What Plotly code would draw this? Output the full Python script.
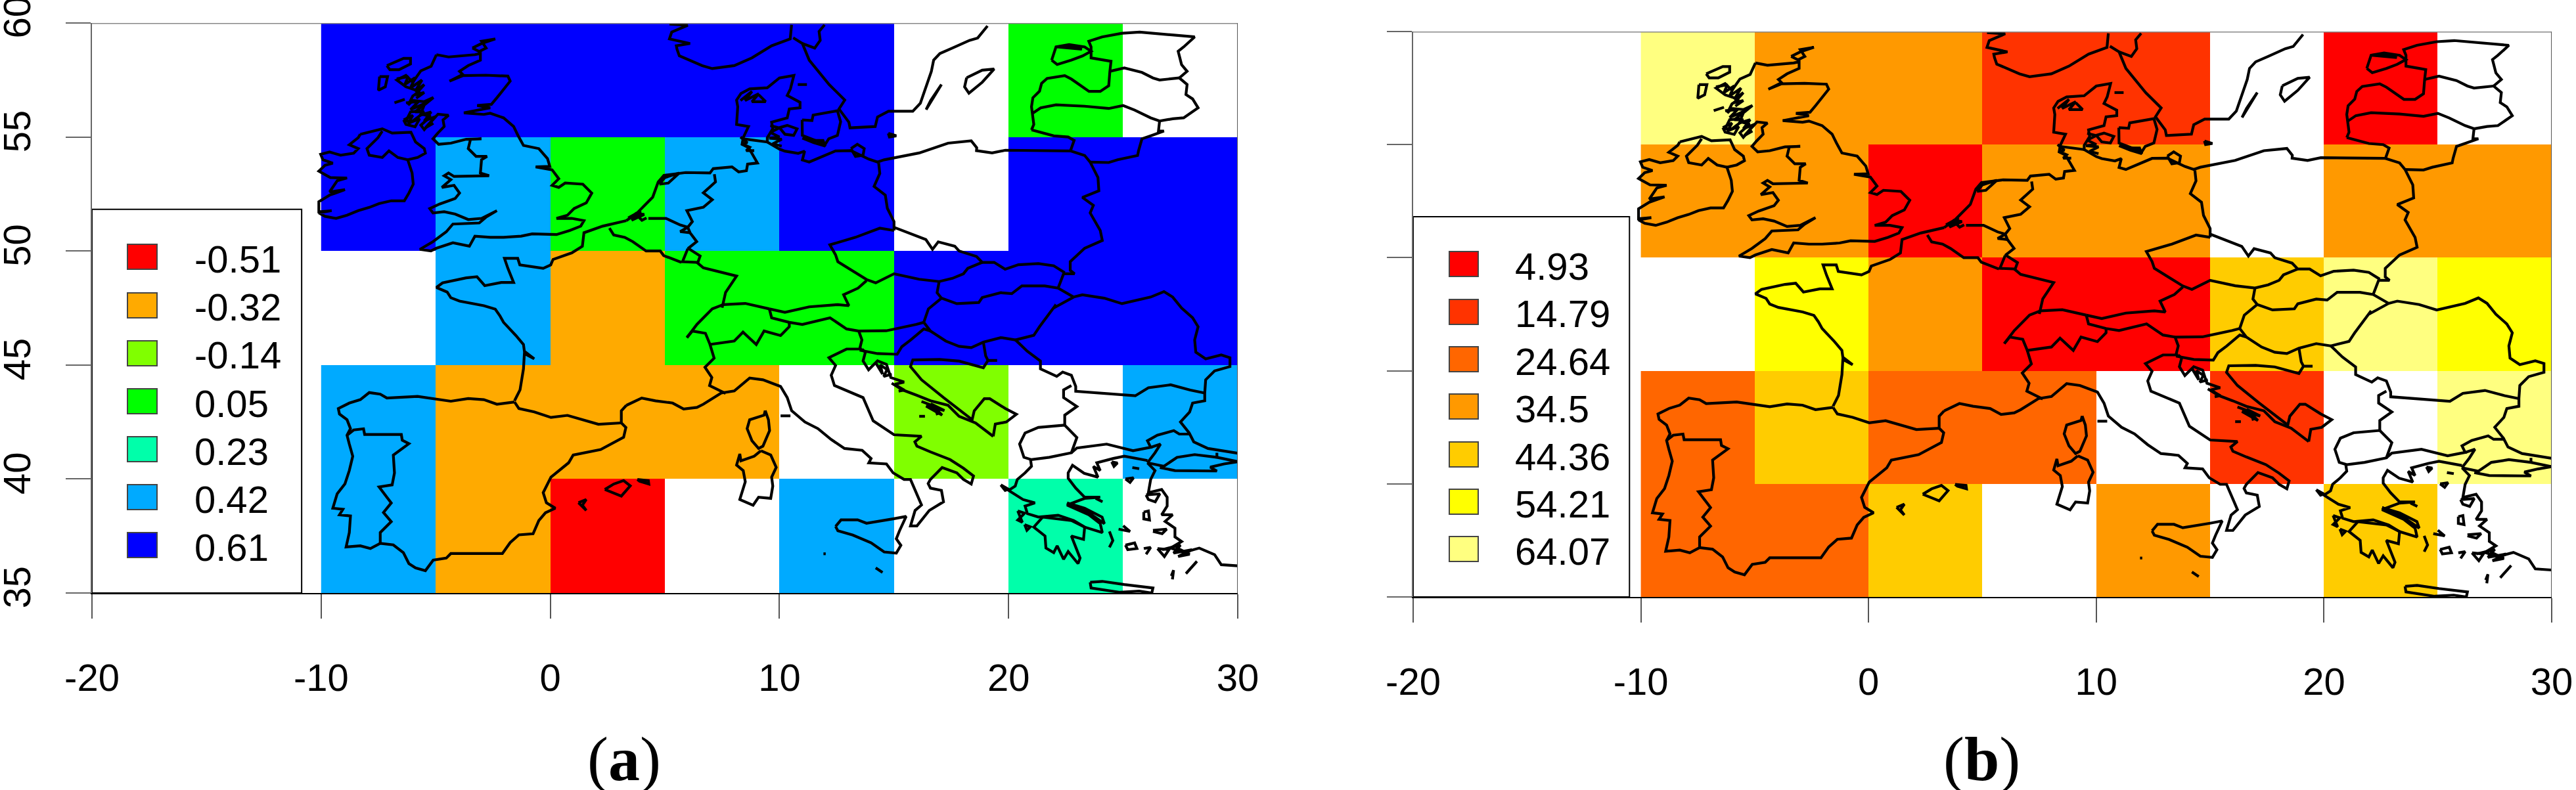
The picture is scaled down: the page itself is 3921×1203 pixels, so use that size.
import plotly.graph_objects as go

W, H = 3921, 1203

# ---------- gridded values ----------
lon_centers = [-7.5, -2.5, 2.5, 7.5, 12.5, 17.5, 22.5, 27.5]
lat_centers = [37.5, 42.5, 47.5, 52.5, 57.5]
levels_a = [-0.51, -0.32, -0.14, 0.05, 0.23, 0.42, 0.61]
colors_a = ["#FF0000", "#FFAA00", "#80FF00", "#00FF00", "#00FFAA", "#00AAFF", "#0000FF"]
levels_b = [4.93, 14.79, 24.64, 34.5, 44.36, 54.21, 64.07]
colors_b = ["#FF0000", "#FF3300", "#FF6600", "#FF9900", "#FFCC00", "#FFFF00", "#FFFF80"]
N = None
z_a = [
    [0.42, -0.32, -0.51, N, 0.42, N, 0.23, N],
    [0.42, -0.32, -0.32, -0.32, N, -0.14, N, 0.42],
    [N, 0.42, -0.32, 0.05, 0.05, 0.61, 0.61, 0.61],
    [0.61, 0.42, 0.05, 0.42, 0.61, N, 0.61, 0.61],
    [0.61, 0.61, 0.61, 0.61, 0.61, N, 0.05, N],
]
z_b = [
    [24.64, 24.64, 44.36, N, 34.5, N, 44.36, N],
    [24.64, 44.36, 24.64, 24.64, N, 14.79, N, 64.07],
    [N, 54.21, 34.5, 4.93, 4.93, 44.36, 64.07, 54.21],
    [34.5, 34.5, 4.93, 34.5, 34.5, N, 34.5, 34.5],
    [64.07, 34.5, 34.5, 14.79, 14.79, N, 4.93, N],
]
x_ticks = [-20, -10, 0, 10, 20, 30]
x_tick_text = ["-20", "-10", "0", "10", "20", "30"]
y_ticks = [35, 40, 45, 50, 55, 60]
y_tick_text = ["35", "40", "45", "50", "55", "60"]

# ---------- map outlines (lon, lat) ----------
ireland = [(-8.29,55.12),(-7.9,55.21),(-7.33,55.36),(-6.9,55.17),(-6.08,55.21),(-5.88,54.78),(-5.5,54.49),(-5.45,54.29),(-5.79,54.1),(-6.22,54.0),(-6.03,53.42),(-5.98,52.93),(-6.17,52.54),(-6.37,52.2),(-6.94,52.2),(-7.47,52.08),(-7.9,51.91),(-8.38,51.77),(-8.87,51.57),(-9.35,51.43),(-9.83,51.52),(-10.1,51.67),(-9.54,51.77),(-10.1,51.72),(-10.1,52.16),(-9.63,52.45),(-8.96,52.69),(-9.63,52.59),(-9.3,53.08),(-8.87,53.2),(-9.6,53.22),(-9.96,53.42),(-10.1,53.5),(-9.83,53.76),(-9.49,53.85),(-9.92,54.0),(-10.02,54.24),(-9.63,54.34),(-9.15,54.2),(-8.58,54.29),(-8.38,54.49),(-8.77,54.66),(-8.38,54.97),(-8.29,55.12)]
n_ireland = [(-7.33,55.26),(-7.52,54.97),(-8.0,54.49),(-7.9,54.2),(-7.33,54.1),(-7.04,54.39),(-6.65,54.1),(-6.22,54.0)]
britain = [(-4.97,58.61),(-4.44,58.51),(-3.29,58.61),(-3.05,58.66),(-3.05,58.37),(-3.58,58.13),(-3.96,57.88),(-3.82,57.74),(-4.4,57.45),(-3.82,57.69),(-2.81,57.71),(-1.85,57.67),(-1.75,57.45),(-2.04,57.06),(-2.33,56.72),(-2.57,56.43),(-3.19,56.38),(-2.62,56.28),(-3.77,56.06),(-2.9,55.99),(-2.62,56.04),(-2.04,55.84),(-1.6,55.46),(-1.41,55.07),(-1.17,54.63),(-0.5,54.49),(-0.12,54.05),(-0.02,53.71),(-0.64,53.69),(0.08,53.56),(0.37,53.17),(0.08,52.88),(0.37,52.79),(0.65,52.98),(1.42,52.93),(1.81,52.54),(1.57,52.11),(1.04,51.86),(0.75,51.57),(0.27,51.43),(0.94,51.43),(1.47,51.33),(1.33,51.09),(0.85,50.9),(0.27,50.72),(-0.79,50.75),(-1.27,50.65),(-2.04,50.6),(-2.62,50.6),(-3.29,50.65),(-3.53,50.21),(-4.25,50.36),(-4.97,50.12),(-5.21,50.0),(-5.69,50.07),(-5.12,50.41),(-4.54,50.84),(-4.25,51.18),(-3.1,51.23),(-2.81,51.48),(-2.33,51.77),(-3.0,51.43),(-3.58,51.38),(-4.15,51.62),(-4.63,51.72),(-5.12,51.67),(-5.26,51.86),(-4.83,52.06),(-4.15,52.3),(-3.96,52.54),(-4.2,52.88),(-4.73,52.79),(-4.34,53.13),(-4.63,53.3),(-4.44,53.42),(-4.2,53.27),(-3.1,53.3),(-2.67,53.3),(-3.05,53.42),(-3.0,54.0),(-2.76,54.15),(-3.24,54.15),(-3.58,54.49),(-3.48,54.9),(-3.0,54.92),(-3.67,54.9),(-4.34,54.73),(-4.87,54.68),(-5.12,54.92),(-4.92,55.16),(-4.63,55.46),(-4.68,55.75),(-4.44,55.95),(-4.9,56.0),(-5.18,55.7),(-5.5,55.32),(-5.65,55.52),(-5.22,55.9),(-5.6,56.0),(-6.0,55.7),(-6.3,55.7),(-6.1,56.1),(-5.6,56.15),(-5.5,56.4),(-5.1,56.73),(-5.5,56.55),(-6.0,56.6),(-6.2,56.4),(-6.0,56.8),(-5.7,57.0),(-6.3,57.2),(-6.7,57.5),(-6.3,57.7),(-6.0,57.4),(-5.65,57.9),(-5.2,58.1),(-4.97,58.61)]
lewis = [(-7.13,58.13),(-6.4,58.45),(-6.1,58.45),(-6.1,58.2),(-6.6,57.95),(-7.0,57.95),(-7.13,58.13)]
uist = [(-7.45,57.65),(-7.1,57.65),(-7.2,57.2),(-7.5,57.05),(-7.45,57.65)]
tiree = [(-6.8,56.5),(-6.35,56.65)]
islay = [(-6.4,55.75),(-6.0,55.95),(-6.2,55.6),(-5.7,55.8),(-5.9,55.45),(-6.3,55.55),(-6.4,55.75)]
hebrides_a = [(-6.7,57.55),(-6.2,57.65),(-6.35,57.3),(-5.9,57.6),(-6.1,57.15),(-5.6,57.5),(-5.9,57.0),(-5.5,57.3),(-5.9,56.85),(-5.5,56.95),(-5.85,56.7)]
hebrides_b = [(-6.3,56.5),(-5.75,56.55),(-6.1,56.2),(-5.4,56.5),(-5.9,56.1),(-5.5,56.1),(-5.7,55.95),(-5.2,56.1),(-5.5,55.7),(-5.0,55.9),(-5.45,55.4),(-5.1,55.6)]
orkney = [(-3.4,58.9),(-3.0,59.1),(-2.4,59.3),(-3.0,59.2),(-2.8,58.9),(-3.1,58.75),(-3.4,58.9)]
iberia = [(-1.56,43.38),(-2.33,43.28),(-2.9,43.48),(-3.58,43.53),(-4.34,43.41),(-4.97,43.51),(-5.79,43.62),(-7.13,43.55),(-7.42,43.72),(-7.9,43.79),(-8.29,43.48),(-8.77,43.33),(-9.25,43.09),(-9.2,42.85),(-8.87,42.6),(-8.72,42.21),(-8.87,41.92),(-8.77,41.53),(-8.62,41.0),(-8.77,40.37),(-8.96,39.79),(-9.3,39.35),(-9.49,38.72),(-9.05,38.67),(-9.2,38.43),(-8.72,38.38),(-8.77,37.65),(-8.91,37.02),(-8.29,37.07),(-7.85,36.95),(-7.42,37.18),(-6.85,37.11),(-6.41,36.77),(-6.17,36.29),(-5.88,36.1),(-5.45,35.98),(-5.11,36.44),(-4.54,36.53),(-4.34,36.73),(-3.48,36.73),(-2.62,36.73),(-2.09,36.73),(-1.75,37.21),(-1.37,37.55),(-0.75,37.6),(-0.5,38.18),(-0.21,38.52),(0.22,38.72),(-0.17,38.96),(-0.31,39.4),(0.03,40.08),(0.8,40.71),(1.0,41.05),(2.2,41.29),(3.2,41.83),(3.3,42.26),(3.1,42.46),(3.1,42.99),(3.32,43.23)]
portugal = [(-8.87,41.92),(-8.58,42.15),(-8.15,42.2),(-8.1,41.95),(-7.2,41.95),(-6.5,41.95),(-6.46,41.7),(-6.17,41.55),(-6.85,41.05),(-6.8,40.27),(-6.9,39.74),(-7.47,39.65),(-7.13,39.2),(-6.94,38.95),(-7.28,38.53),(-6.94,38.13),(-7.42,37.65),(-7.42,37.18)]
pyrenees = [(-1.56,43.38),(-1.37,43.09),(-0.7,42.94),(0.03,42.7),(0.75,42.79),(1.62,42.55),(2.1,42.4),(3.1,42.46)]
mallorca = [(2.38,39.54),(2.77,39.78),(3.2,39.93),(3.49,39.7),(3.1,39.25),(2.67,39.44),(2.38,39.54)]
ibiza = [(1.23,38.96),(1.57,39.1),(1.4,38.85),(1.57,38.62),(1.23,38.96)]
menorca = [(3.8,39.98),(4.28,39.93),(4.3,39.78),(3.9,39.9),(3.8,39.98)]
france_west = [(-1.56,43.43),(-1.32,43.91),(-1.17,44.83),(-1.13,45.5),(-0.7,45.27),(-1.13,45.6),(-1.17,45.9),(-1.5,46.29),(-2.04,46.87),(-2.2,47.16),(-2.4,47.45),(-2.9,47.6),(-3.96,47.8),(-4.34,47.95),(-4.5,48.2),(-4.97,48.4),(-4.7,48.6),(-3.67,48.82),(-3.2,48.87),(-2.86,48.48),(-2.14,48.62),(-1.6,48.62),(-1.85,49.24),(-2.0,49.68),(-1.42,49.68),(-1.33,49.39),(-0.31,49.24),(0.02,49.39),(0.12,49.63),(0.94,49.92),(1.4,50.21),(1.47,50.8),(2.29,51.09),(3.32,51.33)]
north_sea = [(3.32,51.33),(3.8,51.68),(4.47,52.36),(4.71,53.03),(4.96,53.32),(5.91,53.44),(6.97,53.42),(7.11,53.61),(7.93,53.69),(8.22,53.47),(8.56,53.52),(8.61,53.81),(9.04,53.86),(8.85,54.2),(8.65,54.54),(8.37,54.68),(8.42,54.97),(8.65,55.46),(8.13,55.55),(8.18,56.33),(8.13,56.62),(8.32,56.91),(8.7,57.11),(9.47,57.16),(10.0,57.59),(10.63,57.7),(10.48,57.11),(10.34,56.82),(10.9,56.52),(10.9,56.28),(10.43,56.23),(10.34,55.84),(9.66,55.65),(9.71,55.36),(9.47,54.97),(9.47,54.78),(9.76,54.6),(10.0,54.47),(10.24,54.38),(10.82,54.28),(11.1,54.38),(11.0,53.99),(11.3,53.9),(11.5,53.99),(12.45,54.39),(13.12,54.4),(13.9,54.03),(14.28,53.9),(14.57,54.0),(16.1,54.3),(17.36,54.73),(18.37,54.83),(18.61,54.53),(18.6,54.4),(19.28,54.3),(19.86,54.42),(22.7,54.39)]
dk_border = [(8.42,54.92),(9.0,54.85),(9.47,54.78)]
dk_a = [(8.3,56.6),(8.8,57.0),(8.5,56.6),(9.1,56.9),(8.8,56.55),(9.4,56.55),(9.1,56.85)]
dk_b = [(9.6,55.5),(10.0,55.4),(9.6,55.2),(10.0,55.0),(9.55,54.95),(10.1,54.9),(9.7,54.7),(10.1,54.6)]
wadden = [(8.3,55.0),(8.6,54.75),(8.35,54.7),(8.7,54.55),(8.55,54.4),(8.9,54.4)]
ijssel = [(4.76,52.93),(5.0,53.22),(5.63,53.42),(5.15,52.98),(4.76,52.93)]
zeeland = [(3.4,51.45),(3.95,51.75),(3.55,51.35),(4.1,51.6),(3.7,51.65),(4.0,51.35),(4.2,51.45)]
fyn = [(10.0,55.41),(10.34,55.51),(10.77,55.36),(10.62,55.07),(10.24,55.12),(10.0,55.41)]
zealand = [(10.99,55.75),(11.42,55.72),(11.47,55.96),(12.53,56.15),(12.67,55.67),(12.53,55.07),(12.15,54.92),(12.0,54.68),(11.52,54.87),(11.0,55.07),(10.99,55.75)]
lolland = [(11.0,54.95),(11.5,54.75),(12.0,54.6),(11.9,54.85),(11.4,54.85),(11.0,54.95)]
rugen = [(13.12,54.49),(13.4,54.68),(13.7,54.49),(13.65,54.2),(13.32,54.15),(13.12,54.49)]
laeso = [(10.8,57.3),(11.2,57.3)]
bornholm = [(14.75,55.16),(15.1,55.05),(14.8,55.0),(14.75,55.16)]
norway = [(5.2,59.95),(6.0,59.9),(5.3,59.6),(5.2,59.3),(6.1,59.1),(5.5,59.0),(5.53,58.85),(5.63,58.56),(6.63,58.13),(7.07,58.0),(8.03,58.13),(8.8,58.47),(9.66,59.0),(10.47,59.3),(10.53,59.92)]
sweden = [(10.6,59.35),(11.0,59.1),(11.3,58.37),(11.78,57.78),(12.17,57.3),(12.85,56.62),(12.6,56.23),(13.03,55.65),(13.08,55.4),(14.18,55.46),(14.28,55.88),(14.76,56.13),(15.82,56.13),(16.15,56.48),(16.63,57.88),(16.73,58.37),(17.0,58.66),(17.55,58.9),(18.3,59.24),(18.65,59.34),(19.08,59.87)]
norway_sweden = [(11.0,59.1),(11.54,58.9),(11.78,59.24),(11.73,59.63),(11.97,59.92)]
oland = [(16.4,56.2),(17.07,57.3),(16.6,56.6),(16.4,56.2)]
gotland = [(18.17,57.6),(18.85,57.93),(19.37,57.98),(18.85,57.4),(18.27,56.92),(18.08,57.2),(18.17,57.6)]
saaremaa = [(21.88,58.37),(22.07,58.95),(22.64,59.05),(23.32,58.95),(23.6,58.76),(23.22,58.55),(22.74,58.37),(22.12,58.18),(21.88,58.37)]
hiiumaa = [(22.1,58.95),(22.7,58.9),(23.2,58.85),(22.7,59.0),(22.1,58.95)]
kaliningrad = [(21.0,55.31),(21.97,55.05),(22.6,55.0),(22.86,54.85),(22.7,54.39)]
baltic = [(21.0,55.31),(21.1,55.55),(21.0,56.33),(21.06,56.72),(21.35,57.01),(21.44,57.35),(21.68,57.57),(22.45,57.69),(22.74,57.54),(23.22,57.2),(23.51,57.0),(24.0,57.0),(24.37,57.25),(24.42,57.88),(24.47,58.32),(24.18,58.37),(23.6,58.47),(23.6,58.95),(23.5,59.2),(24.08,59.39),(24.95,59.55),(25.72,59.6),(26.68,59.51),(28.12,59.39),(27.64,58.95),(27.4,58.76),(27.55,58.17),(27.79,57.88),(27.45,57.59),(27.79,57.3),(27.74,56.86),(28.03,56.67),(28.27,56.28),(27.64,55.84),(27.16,55.8),(26.59,55.7),(26.54,55.26),(26.78,55.26),(26.25,55.07),(25.82,54.92),(25.67,54.39),(25.63,54.19),(24.76,54.0),(24.37,53.88),(23.56,53.9)]
est_lat = [(24.42,57.88),(25.05,58.03),(25.82,57.83),(26.3,57.59),(26.59,57.5),(27.45,57.59)]
lat_lit = [(21.05,56.04),(21.4,56.28),(22.07,56.41),(23.32,56.35),(24.37,56.25),(25.0,56.38),(25.5,56.18),(26.2,55.84),(26.59,55.7)]
pol_east = [(22.7,54.39),(23.32,54.19),(23.56,53.9),(23.9,53.22),(23.94,52.64),(23.22,52.35),(23.7,52.0),(23.56,51.67),(24.0,50.9),(24.09,50.46),(23.32,50.12),(22.69,49.53),(22.69,49.15),(22.88,49.0),(22.4,49.0),(22.16,48.37)]
pol_germany = [(14.33,53.86),(14.38,53.4),(14.13,52.83),(14.62,52.45),(14.71,51.87),(15.0,51.29),(15.0,50.9)]
ger_czech = [(15.0,50.9),(14.38,51.0),(13.32,50.6),(12.2,50.27),(12.45,49.83),(12.55,49.53),(13.8,48.75),(14.2,48.6),(15.0,49.0),(16.1,48.76),(16.97,48.66),(17.55,48.8),(18.03,49.0),(18.22,49.24),(18.85,49.5)]
czech_pol = [(15.0,51.04),(15.72,50.75),(16.39,50.5),(16.68,50.07),(16.93,50.4),(17.65,50.21),(17.84,50.0),(18.6,49.76),(18.85,49.5),(19.37,49.5),(19.85,49.2),(20.43,49.4),(21.3,49.45),(21.97,49.35),(22.45,49.05)]
slk_hun = [(16.97,48.66),(16.88,48.17),(17.07,47.93),(17.74,47.69),(18.7,47.74),(18.85,47.96),(19.66,48.17),(20.14,48.13),(20.58,48.47),(21.58,48.47),(22.16,48.37),(22.84,47.98),(21.97,47.5)]
ukr_rom = [(22.84,47.98),(23.22,48.08),(24.18,47.93),(24.95,47.69),(26.2,47.98),(26.78,48.22),(27.16,47.98),(27.55,47.5),(28.03,47.07),(28.27,46.68),(28.12,46.1),(28.17,45.56),(28.6,45.27),(29.28,45.44),(29.66,45.32),(29.66,44.93),(28.99,44.74),(28.6,44.35),(28.56,43.77),(28.56,43.43),(28.03,43.33),(27.9,42.94),(27.5,42.5),(27.88,42.02),(28.08,41.63),(28.7,41.34),(30.0,41.13)]
danube = [(28.56,43.77),(27.93,43.9),(27.07,44.13),(26.1,44.0),(25.53,43.65),(24.28,43.75),(22.93,43.85),(22.93,44.06),(22.74,44.55),(22.36,44.69),(22.1,44.5),(21.39,44.83),(21.39,45.17),(20.82,45.6),(20.3,46.1),(21.1,46.3),(21.35,46.68),(22.07,47.65),(21.97,47.5)]
hun_south = [(20.3,46.1),(19.66,46.2),(18.9,46.0),(18.37,45.76),(17.84,45.82),(17.26,46.05),(16.59,46.49),(16.3,46.87),(16.5,47.46),(16.8,47.7),(17.07,47.93)]
bosnia = [(18.9,46.0),(19.0,45.4),(19.1,45.2),(19.5,45.2),(19.1,45.2),(18.9,44.88),(17.84,45.17),(17.0,45.24),(15.82,45.22),(15.72,44.93),(16.2,44.35),(17.16,43.57),(18.41,42.6),(18.5,42.99),(18.94,43.52),(19.18,43.52),(19.86,43.09),(20.34,42.84),(19.9,42.5),(19.42,42.41),(19.33,41.87)]
macedonia = [(22.45,42.36),(21.3,42.26),(20.72,42.02),(20.48,41.53),(20.67,40.95),(21.0,40.85),(21.78,40.95),(22.74,41.15),(22.98,41.82),(22.45,42.36)]
ser_bul = [(22.74,44.1),(22.4,43.91),(22.4,43.57),(22.98,43.18),(22.45,42.8),(22.45,42.36)]
bul_gre = [(22.74,41.15),(22.98,41.36),(24.28,41.53),(25.05,41.34),(25.43,41.24),(26.2,41.39),(26.06,41.68),(26.49,41.92),(27.21,42.12),(27.45,41.97),(27.93,41.97)]
tur_gre = [(26.2,41.39),(26.63,41.53),(26.39,41.15),(26.06,40.71)]
greece_north = [(26.06,40.81),(25.05,41.0),(24.57,40.9),(23.85,40.71),(24.0,40.37),(23.7,40.55),(23.9,40.08),(23.3,40.25),(22.79,40.6),(22.6,40.27),(22.6,40.03),(22.93,39.6),(23.32,39.2),(24.0,39.2),(23.32,39.15),(22.55,38.86),(23.5,38.43),(24.0,38.04),(24.09,37.65),(23.32,37.89),(22.84,38.18),(22.16,38.41),(21.3,38.33),(20.82,38.48),(20.72,38.81),(21.15,38.95),(20.63,39.1),(20.0,39.5),(20.29,39.69),(20.38,39.98),(20.72,40.27),(21.0,40.56),(20.96,40.83)]
euboea = [(22.55,38.95),(23.32,38.72),(24.08,38.33),(24.18,38.04),(23.5,38.52),(22.55,38.95)]
peloponnese = [(21.49,38.33),(21.1,37.89),(21.59,37.5),(21.63,36.97),(21.97,36.77),(22.12,37.07),(22.4,36.48),(22.6,36.82),(23.03,36.29),(23.12,36.53),(22.74,37.5),(23.27,37.35),(23.32,37.89),(22.74,38.18),(21.49,38.33)]
corfu = [(19.66,39.74),(20.0,39.55),(19.85,39.5),(19.66,39.74)]
lefkada = [(20.4,38.6),(20.7,38.5),(20.4,38.2),(20.6,38.1),(20.4,38.6)]
zakynthos = [(20.7,38.0),(20.95,37.9),(20.8,37.75),(20.7,38.0)]
crete = [(23.56,35.47),(24.09,35.51),(25.05,35.37),(25.82,35.27),(26.3,35.22),(26.25,35.0),(25.7,35.08),(24.86,35.03),(23.6,35.22),(23.56,35.47)]
rhodes = [(27.74,35.85),(28.22,36.39),(28.1,36.3),(27.85,36.0),(27.74,35.85)]
turkey_west = [(26.06,40.71),(26.39,40.37),(26.2,39.98),(26.1,39.4),(26.68,39.54),(26.92,39.2),(26.92,38.81),(26.68,38.43),(27.16,38.43),(26.83,38.14),(27.26,37.84),(27.26,37.46),(27.55,37.26),(27.07,36.97),(27.64,36.78),(28.32,36.97),(28.99,36.68),(29.28,36.24),(30.0,36.19)]
marmara_north = [(26.06,40.71),(26.78,40.56),(27.35,40.95),(28.12,41.07),(29.09,40.95),(30.0,40.76)]
marmara_south = [(26.6,40.5),(27.26,40.37),(29.09,40.35),(28.8,40.52),(29.4,40.66),(30.0,40.76)]
bosphorus = [(29.09,41.15),(29.09,40.9)]
aegean_a = [(24.5,40.75),(24.75,40.7),(24.6,40.55),(24.5,40.75)]
aegean_b = [(25.4,40.5),(25.7,40.45)]
aegean_c = [(25.1,40.0),(25.45,40.05),(25.3,39.85),(25.1,40.0)]
aegean_d = [(26.0,39.3),(26.6,39.35),(26.4,39.0),(26.1,39.1),(26.0,39.3)]
aegean_e = [(25.9,38.55),(26.1,38.6),(26.15,38.2),(25.9,38.25),(25.9,38.55)]
aegean_f = [(26.3,37.75),(26.9,37.8),(26.7,37.6),(26.3,37.7)]
aegean_g = [(25.0,37.95),(25.3,37.7),(24.8,37.8)]
aegean_h = [(24.4,37.7),(24.55,37.3),(24.4,37.0)]
aegean_i = [(25.1,37.1),(25.5,37.2),(25.6,36.95),(25.2,36.9),(25.1,37.1)]
aegean_j = [(25.9,36.95),(26.2,37.0),(26.0,36.7)]
aegean_k = [(26.5,36.95),(27.0,36.9),(26.8,36.6),(26.5,36.95)]
aegean_l = [(26.7,36.9),(27.5,37.1),(27.2,36.75),(28.0,36.9),(27.4,36.6),(27.9,36.7),(27.3,37.0)]
aegean_m = [(27.1,35.75),(27.2,36.0),(27.15,35.6)]
sporades = [(23.8,39.15),(24.1,39.0)]
mediterranean_north = [(3.32,43.23),(3.99,43.55),(4.59,43.43),(5.34,43.33),(5.82,43.07),(6.4,43.14),(6.68,43.28),(7.46,43.77),(8.03,43.86),(8.7,44.43),(9.28,44.35),(10.05,44.06),(10.34,43.57),(10.53,43.0),(11.11,42.5),(11.68,42.21),(12.26,41.73),(12.84,41.34),(13.61,41.26),(14.0,40.9),(13.9,40.71),(14.67,40.66),(14.96,40.27),(15.44,39.98),(15.72,39.98),(16.0,39.3),(16.2,38.86),(15.92,38.62),(15.72,37.94),(16.0,37.94),(16.54,38.62),(17.16,39.0),(17.07,39.5),(16.59,39.6),(16.49,39.8),(16.59,39.98),(17.1,40.5),(17.74,40.27),(18.03,39.98),(18.37,39.78),(18.47,40.13),(18.03,40.47),(17.45,40.85),(16.59,41.19),(16.0,41.44),(15.91,41.63),(16.2,41.87),(15.0,41.94),(14.09,42.55),(13.65,43.57),(12.93,43.86),(12.4,44.1),(12.26,44.55),(12.45,44.98),(12.16,45.32),(12.93,45.7),(13.6,45.7)]
corsica = [(9.38,43.0),(9.52,42.6),(9.57,42.12),(9.28,41.44),(9.09,41.34),(8.8,41.68),(8.59,42.21),(8.7,42.6),(9.33,42.8),(9.38,43.0)]
sardinia = [(9.19,41.24),(9.62,41.05),(9.86,40.51),(9.66,40.08),(9.71,39.69),(9.62,39.15),(9.09,39.2),(8.85,38.85),(8.27,39.1),(8.51,39.88),(8.42,40.37),(8.13,40.61),(8.27,41.1),(8.32,40.8),(8.9,41.0),(9.19,41.24)]
elba = [(10.05,42.77),(10.48,42.77)]
sicily = [(12.45,37.92),(12.69,38.21),(13.41,38.21),(13.8,38.06),(15.0,38.26),(15.53,38.36),(15.24,37.73),(15.1,37.38),(15.3,37.09),(15.1,36.75),(14.57,36.8),(14.0,37.2),(13.2,37.54),(12.55,37.73),(12.45,37.92)]
malta = [(14.2,36.1),(14.5,35.9)]
pantelleria = [(11.92,36.72),(12.02,36.72)]
croatia_coast = [(13.6,45.7),(13.75,45.56),(13.65,45.18),(13.89,44.79),(14.28,45.18),(14.67,45.03),(14.86,44.45),(15.44,44.25),(15.05,44.16),(15.34,43.92),(16.0,43.67),(16.59,43.43),(17.36,43.23),(17.84,42.75),(18.56,42.46),(19.33,41.87)]
croatia_isl_a = [(14.2,45.1),(14.5,44.6),(14.4,45.0),(14.7,44.8),(14.55,44.5),(14.9,44.6)]
croatia_isl_b = [(14.9,44.2),(15.3,43.95),(15.1,44.1),(15.45,43.9),(15.2,43.85)]
croatia_isl_c = [(16.2,43.4),(17.0,43.1),(16.6,43.3),(17.2,43.0),(16.4,43.2),(17.1,42.8),(16.8,43.1),(16.9,42.8)]
croatia_isl_d = [(16.1,42.75),(16.35,42.75)]
slovenia = [(13.5,45.65),(14.28,45.5),(15.14,45.47),(15.34,45.8),(15.72,46.09),(16.3,46.58),(16.59,46.49)]
austria_south = [(13.5,45.7),(13.6,46.1),(13.46,46.49),(14.66,46.5),(15.97,46.78),(16.3,46.87)]
italy_austria = [(13.46,46.49),(12.93,46.58),(12.21,47.07),(11.0,46.78),(10.43,46.87),(9.66,47.07),(9.56,47.46)]
italy_swiss = [(10.43,46.87),(10.43,46.68),(10.05,46.29),(9.33,46.49),(8.99,45.9),(8.41,46.44),(8.03,46.05),(6.97,45.9),(6.77,46.39),(6.2,46.49),(5.96,46.2)]
swiss_north = [(5.96,46.2),(6.4,46.78),(7.07,47.46),(7.55,47.65),(8.51,47.7),(9.56,47.46)]
alps_french = [(6.97,45.9),(7.15,45.3),(6.75,44.9),(7.05,44.45),(6.95,44.1),(7.65,43.75)]
austria_germany = [(9.56,47.46),(10.24,47.31),(11.3,47.55),(12.55,47.65),(13.03,47.6),(12.8,48.08),(13.43,48.37),(13.8,48.7)]
france_germany = [(6.4,49.5),(6.68,49.26),(8.13,48.9),(7.65,48.18),(7.5,47.51)]
luxembourg = [(6.0,50.1),(5.77,49.53),(6.44,49.5),(6.54,49.78),(6.0,50.13)]
nl_germany = [(7.16,53.37),(7.21,53.03),(6.68,52.55),(7.07,52.25),(6.68,51.92),(5.96,51.77),(6.2,51.29),(6.0,51.04),(6.1,50.8),(6.39,50.41),(6.0,50.1)]
be_nl = [(4.28,51.43),(5.05,51.43),(5.67,51.14),(6.0,51.04),(5.67,50.85),(6.1,50.8)]
be_fr = [(2.58,51.0),(2.77,50.7),(3.25,50.6),(3.6,50.41),(4.18,50.0),(4.8,50.0),(4.95,49.8),(5.72,49.5)]
map_lines = [ireland, n_ireland, britain, lewis, uist, tiree, islay, hebrides_a, hebrides_b, orkney, iberia,
             portugal, pyrenees, mallorca, ibiza, menorca, france_west, north_sea, dk_border, dk_a, dk_b, wadden,
             ijssel, zeeland, fyn, zealand, lolland, rugen, laeso, bornholm, norway, sweden, norway_sweden, oland,
             gotland, saaremaa, hiiumaa, kaliningrad, baltic, est_lat, lat_lit, pol_east, pol_germany, ger_czech,
             czech_pol, slk_hun, ukr_rom, danube, hun_south, bosnia, macedonia, ser_bul, bul_gre, tur_gre,
             greece_north, euboea, peloponnese, corfu, lefkada, zakynthos, crete, rhodes, turkey_west,
             marmara_north, marmara_south, bosphorus, aegean_a, aegean_b, aegean_c, aegean_d, aegean_e, aegean_f,
             aegean_g, aegean_h, aegean_i, aegean_j, aegean_k, aegean_l, aegean_m, sporades, mediterranean_north,
             corsica, sardinia, elba, sicily, malta, pantelleria, croatia_coast, croatia_isl_a, croatia_isl_b,
             croatia_isl_c, croatia_isl_d, slovenia, austria_south, italy_austria, italy_swiss, swiss_north,
             alps_french, austria_germany, france_germany, luxembourg, nl_germany, be_nl, be_fr]

map_x, map_y = [], []
for line in map_lines:
    map_x += [p[0] for p in line] + [None]
    map_y += [p[1] for p in line] + [None]


def stepped_scale(levels, colors):
    edges = [levels[0] - (levels[1] - levels[0]) / 2]
    edges += [(a + b) / 2 for a, b in zip(levels, levels[1:])]
    edges += [levels[-1] + (levels[-1] - levels[-2]) / 2]
    lo, hi = edges[0], edges[-1]
    scale = []
    for i, c in enumerate(colors):
        scale.append([(edges[i] - lo) / (hi - lo), c])
        scale.append([(edges[i + 1] - lo) / (hi - lo), c])
    return scale, lo, hi


fig = go.Figure()
panels = [
    dict(ax="", z=z_a, lv=levels_a, col=colors_a, px=(140, 1884), py=(35, 903), labels=True,
         box=(-10.85, 51.83), sq=(194, 239), txt=294, cy=[391, 465, 538, 611, 684, 757, 830],
         tag="a", tagx=950),
    dict(ax="2", z=z_b, lv=levels_b, col=colors_b, px=(2151, 3884), py=(48, 909), labels=False,
         box=(-10.5, 51.81), sq=(2206, 2250), txt=2304, cy=[402, 475, 547, 619, 692, 764, 836],
         tag="b", tagx=3016),
]
shapes, annotations = [], []
FONT = "Liberation Sans"
for p in panels:
    scale, lo, hi = stepped_scale(p["lv"], p["col"])
    xa, ya = "x" + p["ax"], "y" + p["ax"]
    fig.add_trace(go.Heatmap(x=lon_centers, y=lat_centers, z=p["z"], colorscale=scale, zmin=lo, zmax=hi,
                             showscale=False, hoverongaps=False, xaxis=xa, yaxis=ya))
    fig.add_trace(go.Scatter(x=map_x, y=map_y, mode="lines", xaxis=xa, yaxis=ya, showlegend=False,
                             line=dict(color="#000000", width=4.2), connectgaps=False))
    axis_common = dict(showgrid=False, zeroline=False, showline=True, ticks="outside", tickwidth=2,
                       automargin=False, ticklabeloverflow="allow",
                       tickfont=dict(family=FONT, size=58, color="#000000"))
    fig.update_layout({
        "xaxis" + p["ax"]: dict(domain=[p["px"][0] / W, p["px"][1] / W], range=[-20, 30], tickvals=x_ticks,
                                ticktext=x_tick_text, ticklen=37, linecolor="#000000", linewidth=2,
                                tickcolor="#555555", ticklabelstandoff=40, anchor=ya, **axis_common),
        "yaxis" + p["ax"]: dict(domain=[1 - p["py"][1] / H, 1 - p["py"][0] / H], range=[35, 60], tickvals=y_ticks,
                                ticktext=y_tick_text, ticklen=38, linecolor="#666666", linewidth=2,
                                tickcolor="#666666", tickangle=-90, ticklabelstandoff=31,
                                showticklabels=p["labels"], anchor=xa, **axis_common),
    })
    # top and right frame, legend box
    shapes.append(dict(type="line", xref=xa, yref=ya, x0=-20, x1=30, y0=60, y1=60,
                       line=dict(color="#888888", width=3)))
    shapes.append(dict(type="line", xref=xa, yref=ya, x0=30, x1=30, y0=35, y1=60,
                       line=dict(color="#555555", width=2)))
    shapes.append(dict(type="rect", xref=xa, yref=ya, x0=-20, x1=p["box"][0], y0=35, y1=p["box"][1],
                       line=dict(color="#000000", width=2), fillcolor="#FFFFFF"))
    for lv, col, cy in zip(p["lv"], p["col"], p["cy"]):
        shapes.append(dict(type="rect", xref="paper", yref="paper", x0=p["sq"][0] / W, x1=p["sq"][1] / W,
                           y0=1 - (cy + 19) / H, y1=1 - (cy - 19) / H, fillcolor=col,
                           line=dict(color="#444444", width=2)))
        annotations.append(dict(xref="paper", yref="paper", x=p["txt"] / W, y=1 - (cy + 3) / H, text=str(lv),
                                showarrow=False, xanchor="left", yanchor="middle", align="left",
                                font=dict(family=FONT, size=58, color="#000000")))
    annotations.append(dict(xref="paper", yref="paper", x=p["tagx"] / W, y=1 - 1155 / H,
                            text="(<b>%s</b>)" % p["tag"], showarrow=False, xanchor="center", yanchor="middle",
                            font=dict(family="Liberation Serif", size=96, color="#000000")))

fig.update_layout(width=W, height=H, margin=dict(l=0, r=0, t=0, b=0, autoexpand=False), paper_bgcolor="#FFFFFF",
                  plot_bgcolor="#FFFFFF", showlegend=False, shapes=shapes, annotations=annotations)
fig.write_html("out.html", config={"displayModeBar": False},
               post_script="document.body.style.margin='0';document.body.style.overflow='hidden';")
